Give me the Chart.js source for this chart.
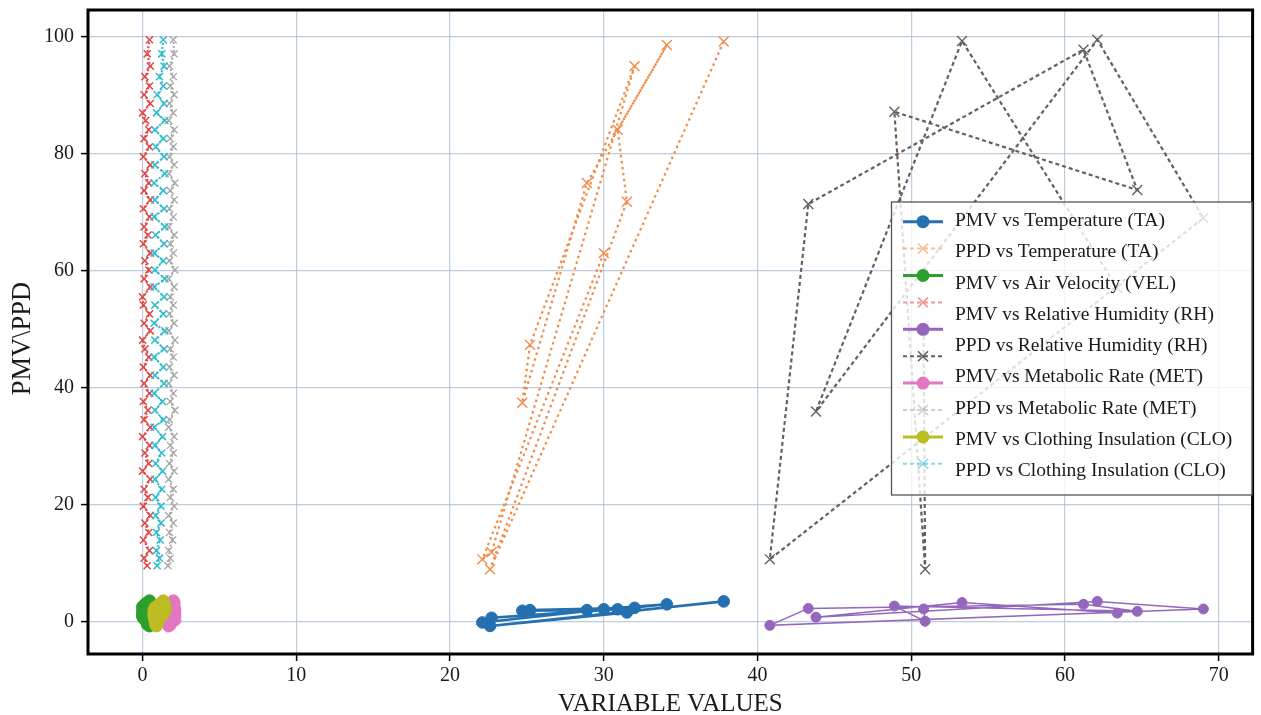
<!DOCTYPE html>
<html>
<head>
<meta charset="utf-8">
<script src="https://cdn.jsdelivr.net/npm/chart.js@4.4.1/dist/chart.umd.min.js"></script>
<style>
  html, body { margin: 0; padding: 0; background: #ffffff; }
  #wrap { width: 1261px; height: 715px; }
</style>
</head>
<body>
<div id="wrap"><canvas id="c" width="1261" height="715"></canvas></div>
<script>
// Tick positions
const xTicks = [0, 10, 20, 30, 40, 50, 60, 70];
const yTicks = [0, 20, 40, 60, 80, 100];

// Legend texts as printed in the legend box
const legendLabels = [
  'PMV vs Temperature (TA)',
  'PPD vs Temperature (TA)',
  'PMV vs Air Velocity (VEL)',
  'PMV vs Relative Humidity (RH)',
  'PPD vs Relative Humidity (RH)',
  'PMV vs Metabolic Rate (MET)',
  'PPD vs Metabolic Rate (MET)',
  'PMV vs Clothing Insulation (CLO)',
  'PPD vs Clothing Insulation (CLO)'
];

// Air temperature runs (°C) with their PMV / PPD
const ta    = [37.8, 22.6, 31.5, 30.9, 34.1, 28.9, 24.7, 25.2, 32.0, 22.7, 22.1, 30.0];
const pmvTa = [3.4, -0.8, 1.5, 2.05, 2.9, 1.9, 1.8, 1.9, 2.3, 0.6, -0.2, 2.05];
const ppdTa = [99.2, 8.9, 71.8, 84.1, 98.6, 75.0, 37.4, 47.3, 95.0, 11.8, 10.6, 63.0];

// Relative humidity runs (%) with their PMV / PPD
const rh    = [50.8, 50.9, 48.9, 64.7, 61.2, 43.3, 40.8, 69.0, 62.1, 43.8, 53.3, 63.4];
const pmvRh = [2.1, 0.0, 2.6, 1.7, 2.9, 2.2, -0.7, 2.1, 3.4, 0.7, 3.2, 1.4];
const ppdRh = [50.0, 8.9, 87.2, 73.8, 97.8, 71.4, 10.6, 69.0, 99.5, 35.9, 99.3, 57.0];

// Personal / air-speed records: velocity (m/s), metabolic rate (met), clothing (clo)
const vel = [
  0.3, 0.1, 0.45, 0.05, 0.4, 0.15, 0.5, 0.05, 0.35, 0.1,
  0.5, 0.0, 0.4, 0.15, 0.45, 0.0, 0.5, 0.1, 0.35, 0.05,
  0.45, 0.1, 0.5, 0.05, 0.4, 0.15, 0.0, 0.5, 0.1, 0.45,
  0.05, 0.0, 0.5, 0.1, 0.4, 0.15, 0.5, 0.05, 0.35, 0.1,
  0.45, 0.05, 0.5, 0.1, 0.4, 0.15, 0.5, 0.05, 0.45, 0.1,
  0.4, 0.2, 0.0, 0.5, 0.1, 0.45, 0.15, 0.5, 0.3, 0.45
];
const met = [
  1.65, 1.8, 1.7, 1.95, 1.75, 2.0, 1.7, 2.05, 1.8, 2.0,
  1.7, 2.05, 1.75, 2.0, 1.8, 2.05, 1.7, 1.75, 2.1, 1.8,
  2.0, 1.7, 2.05, 1.75, 2.0, 1.8, 2.1, 1.7, 2.05, 1.75,
  2.0, 1.8, 2.05, 1.7, 2.1, 1.75, 2.0, 1.8, 2.05, 1.7,
  2.0, 1.75, 2.05, 1.8, 2.1, 1.7, 2.05, 1.75, 2.0, 1.8,
  2.05, 1.7, 2.0, 1.75, 2.05, 1.8, 2.0, 1.75, 2.05, 2.0
];
const clo = [
  0.95, 1.1, 0.9, 1.15, 0.9, 1.2, 0.85, 1.2, 0.85, 1.25,
  0.8, 1.3, 0.85, 1.25, 0.8, 1.3, 0.75, 1.35, 0.8, 1.3,
  0.75, 1.4, 0.8, 1.35, 0.75, 1.4, 0.8, 1.45, 0.75, 1.35,
  0.8, 1.4, 0.75, 1.45, 0.8, 1.35, 0.75, 1.4, 0.85, 1.45,
  0.75, 1.4, 0.8, 1.35, 0.75, 1.45, 0.8, 1.4, 0.85, 1.35,
  0.8, 1.45, 0.9, 1.4, 0.95, 1.35, 1.1, 1.4, 1.25, 1.35
];
const pmvRec = [
  -0.5, 0.4, -0.8, 0.6, -0.3, 0.8, 0.1, 0.9, -0.6, 1.0,
  0.3, 1.1, -0.1, 1.2, 0.5, 1.3, 0.7, 1.35, 0.2, 1.4,
  0.9, 1.5, 0.6, 1.55, 1.1, 1.6, 0.8, 1.7, 1.2, 1.75,
  1.0, 1.8, 1.4, 1.85, 1.3, 1.9, 1.6, 2.0, 1.5, 2.05,
  1.8, 2.1, 1.7, 2.2, 1.9, 2.3, 2.0, 2.35, 2.2, 2.45,
  2.3, 2.55, 2.5, 2.65, 2.6, 2.8, 2.9, 3.0, 3.2, 3.5
];
const ppdRec = [
  9.5, 10.8, 12.1, 13.9, 15.2, 16.8, 18.1, 19.7, 21.2, 22.6,
  24.3, 25.7, 27.0, 28.8, 30.1, 31.6, 33.2, 34.5, 36.1, 37.6,
  39.0, 40.7, 42.1, 43.5, 45.2, 46.6, 48.1, 49.7, 51.0, 52.6,
  54.1, 55.5, 57.2, 58.6, 60.1, 61.7, 63.0, 64.6, 66.1, 67.5,
  69.2, 70.6, 72.1, 73.7, 75.0, 76.6, 78.1, 79.5, 81.2, 82.6,
  84.1, 85.7, 87.0, 88.6, 90.1, 91.6, 93.2, 95.0, 97.1, 99.5
];

const SERIF = '"Liberation Serif", "Times New Roman", serif';

function pts(xs, ys) { return xs.map((x, i) => ({ x: x, y: ys[i] })); }

function pmvStyle(color, lw, r) {
  return {
    borderColor: color, backgroundColor: color, borderWidth: lw,
    pointStyle: 'circle', pointRadius: r,
    pointBackgroundColor: color, pointBorderColor: color, pointBorderWidth: 1,
    kind: 'pmv'
  };
}
function ppdStyle(color, dash, lw, r, pw) {
  return {
    borderColor: color, backgroundColor: color, borderWidth: lw || 2.2, borderDash: dash,
    pointStyle: 'crossRot', pointRadius: r || 7,
    pointBackgroundColor: color, pointBorderColor: color, pointBorderWidth: pw || 1.4,
    kind: 'ppd'
  };
}

const series = [
  Object.assign({ label: 'PMV vs Temperature (TA)', data: pts(ta, pmvTa) }, pmvStyle('#2470b0', 2.6, 5.8)),
  Object.assign({ label: 'PPD vs Temperature (TA)', data: pts(ta, ppdTa) }, ppdStyle('#f08c48', [2.5, 3.5])),
  Object.assign({ label: 'PMV vs Air Velocity (VEL)', data: pts(vel, pmvRec) }, pmvStyle('#2ca02c', 2, 6)),
  Object.assign({ label: 'PPD vs Air Velocity (VEL)', data: pts(vel, ppdRec) }, ppdStyle('#e04848', [2, 2], 2.1, 5, 1.5)),
  Object.assign({ label: 'PMV vs Relative Humidity (RH)', data: pts(rh, pmvRh) }, pmvStyle('#9467bd', 1.5, 5)),
  Object.assign({ label: 'PPD vs Relative Humidity (RH)', data: pts(rh, ppdRh) }, ppdStyle('#646060', [4, 3], 2.2)),
  Object.assign({ label: 'PMV vs Metabolic Rate (MET)', data: pts(met, pmvRec) }, pmvStyle('#e377c2', 2, 6)),
  Object.assign({ label: 'PPD vs Metabolic Rate (MET)', data: pts(met, ppdRec) }, ppdStyle('#a6a6a6', [2, 2], 1.9, 5, 1.3)),
  Object.assign({ label: 'PMV vs Clothing Insulation (CLO)', data: pts(clo, pmvRec) }, pmvStyle('#bcbd22', 2, 6)),
  Object.assign({ label: 'PPD vs Clothing Insulation (CLO)', data: pts(clo, ppdRec) }, ppdStyle('#30bccf', [2, 2], 2.1, 5, 1.5))
];
series.forEach((s, i) => {
  s.showLine = true;
  s.fill = false;
  s.tension = 0;
  s.order = series.length - i;   // first series underneath, last on top
});

// Frame around the plot and the boxed legend drawn over the data
const frameAndLegend = {
  id: 'frameAndLegend',
  afterDatasetsDraw(chart) {
    const { ctx, chartArea: a } = chart;
    ctx.save();
    ctx.strokeStyle = '#000';
    ctx.lineWidth = 3;
    ctx.strokeRect(a.left, a.top, a.right - a.left, a.bottom - a.top);
    ctx.restore();
  },
  afterDraw(chart) {
    const { ctx, chartArea: a } = chart;
    const bx = a.left + 803.5, by = a.top + 192, bw = 360.5, bh = 293;
    ctx.save();
    ctx.fillStyle = 'rgba(255,255,255,0.8)';
    ctx.fillRect(bx, by, bw, bh);
    ctx.strokeStyle = '#555';
    ctx.lineWidth = 1.3;
    ctx.strokeRect(bx, by, bw, bh);

    const iconX0 = bx + 11.5, iconX1 = bx + 51.5, iconC = bx + 31.5;
    series.forEach((s, i) => {
      const y = by + 19.7 + i * 26.9;
      ctx.save();
      ctx.globalAlpha = (s.kind === 'ppd' && s.borderColor !== '#646060') ? 0.55 : 1;
      ctx.strokeStyle = s.borderColor;
      ctx.lineWidth = s.kind === 'pmv' ? 3 : 2;
      ctx.setLineDash(s.kind === 'pmv' ? [] : [4, 3]);
      ctx.beginPath();
      ctx.moveTo(iconX0, y);
      ctx.lineTo(iconX1, y);
      ctx.stroke();
      ctx.setLineDash([]);
      if (s.kind === 'pmv') {
        ctx.fillStyle = s.borderColor;
        ctx.beginPath();
        ctx.arc(iconC, y, 6.5, 0, Math.PI * 2);
        ctx.fill();
      } else {
        ctx.lineWidth = 1.6;
        const d = 5;
        ctx.beginPath();
        ctx.moveTo(iconC - d, y - d); ctx.lineTo(iconC + d, y + d);
        ctx.moveTo(iconC - d, y + d); ctx.lineTo(iconC + d, y - d);
        ctx.stroke();
      }
      ctx.restore();
    });

    ctx.fillStyle = '#1a1a1a';
    ctx.font = '19.5px ' + SERIF;
    ctx.textAlign = 'left';
    ctx.textBaseline = 'middle';
    legendLabels.forEach((t, j) => {
      ctx.fillText(t, bx + 63.5, by + 19 + j * 31.25);
    });
    ctx.restore();
  }
};

const gridStyle = {
  color: 'rgba(168,188,210,0.75)',
  lineWidth: 1.2,
  drawTicks: true,
  tickLength: 7,
  tickColor: '#000',
  tickWidth: 1.5
};

new Chart(document.getElementById('c'), {
  type: 'scatter',
  data: { datasets: series },
  options: {
    responsive: false,
    devicePixelRatio: 1,
    animation: false,
    events: [],
    layout: { padding: { top: 10, right: 3, left: 0, bottom: 0 } },
    plugins: {
      legend: { display: false },
      tooltip: { enabled: false },
      title: { display: false }
    },
    scales: {
      x: {
        type: 'linear',
        min: -3.55,
        max: 72.2,
        afterBuildTicks: (s) => { s.ticks = xTicks.map(v => ({ value: v })); },
        afterFit: (s) => { s.height = 61; s.paddingLeft = 0; s.paddingRight = 0; },
        grid: gridStyle,
        border: { display: false },
        ticks: { color: '#1a1a1a', font: { family: SERIF, size: 20 }, padding: 3, maxRotation: 0, autoSkip: false },
        title: { display: true, text: 'VARIABLE VALUES', color: '#1a1a1a', font: { family: SERIF, size: 25 }, padding: { top: 0, bottom: -4 } }
      },
      y: {
        type: 'linear',
        min: -5.6,
        max: 104.6,
        afterBuildTicks: (s) => { s.ticks = yTicks.map(v => ({ value: v })); },
        afterFit: (s) => { s.width = 88; s.paddingTop = 0; s.paddingBottom = 0; },
        grid: gridStyle,
        border: { display: false },
        ticks: { color: '#1a1a1a', font: { family: SERIF, size: 20 }, padding: 7, autoSkip: false },
        title: { display: true, text: 'PMV\\PPD\u2002', color: '#1a1a1a', font: { family: SERIF, size: 26.5 }, padding: { top: 7, bottom: 0 } }
      }
    }
  },
  plugins: [frameAndLegend]
});
</script>
</body>
</html>
